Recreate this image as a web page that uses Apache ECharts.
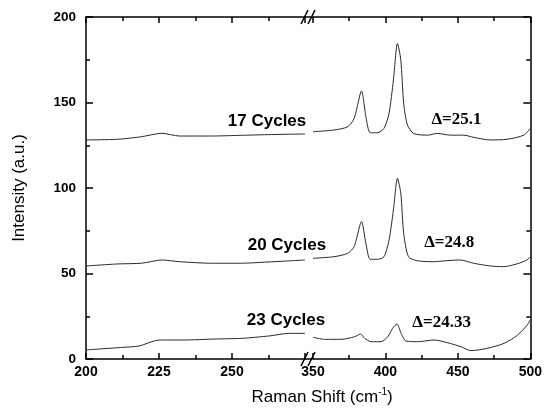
<!DOCTYPE html>
<html>
<head>
<meta charset="utf-8">
<script src="https://cdn.jsdelivr.net/npm/echarts@6/dist/echarts.min.js"></script>
<style>html,body{margin:0;padding:0;background:#fff;}#c{width:545px;height:413px;}</style>
</head>
<body>
<div id="c"></div>
<script>
// Raman shift ranges (broken axis) and tick labels
const leftRange = [200, 275];
const rightRange = [350, 500];
const yRange = [0, 200];

// 17 Cycles
const c17Left = [[200,128.1],[211,128.5],[219,130.0],[226,132.0],[232,130.4],[243,130.4],[253,130.8],[262,131.2],[275,131.6]];
const c17Right = [[350,132.9],[364.5,133.9],[373.9,135.8],[378.4,140.7],[383.5,156.7],[386.5,141.7],[389.5,132.3],[394.5,132.3],[399,134.9],[402.5,143.7],[405.5,163.2],[408.3,184.6],[410.6,174.9],[412.6,149.5],[415.2,136.8],[419.5,131.9],[429,130.9],[435.8,131.9],[445,130.9],[454,130.9],[461,129.6],[472.5,128.1],[484,128.5],[495.5,130.9],[500,134.9]];
// 20 Cycles
const c20Left = [[200,54.4],[211,55.6],[219,56.0],[226,57.9],[232,56.9],[243,56.0],[253,56.0],[262,56.7],[275,57.9]];
const c20Right = [[350,58.9],[364.5,59.8],[373.9,61.8],[378.4,65.7],[383.5,80.3],[386.5,67.7],[389.5,58.3],[394.5,58.3],[399,59.8],[402.5,69.6],[405.5,87.1],[408.3,105.7],[410.6,96.9],[412.6,73.5],[415.9,59.8],[421.7,57.5],[433.2,56.9],[442.4,57.5],[451.6,57.9],[460.8,56.0],[472.3,54.4],[481.5,54.0],[490.7,55.6],[497.6,57.9],[500,59.8]];
// 23 Cycles
const c23Left = [[200,5.3],[212.5,6.8],[218.2,7.6],[225,11.1],[233,11.1],[244.5,11.7],[253.6,12.1],[262.8,13.5],[269.6,15.0],[275,15.0]];
const c23Right = [[350,12.7],[358,11.5],[369.5,11.5],[378.7,13.0],[382.8,14.6],[385.6,12.1],[390.2,10.1],[397,10.1],[401.6,13.0],[405,18.0],[408,20.5],[410.8,15.0],[414.2,10.5],[422.2,10.1],[433.7,11.1],[442.9,9.5],[452.1,7.2],[459,4.9],[470.5,6.3],[482,9.2],[491.2,14.0],[498,20.0],[500,23.0]];

// annotations: [text, side(0 left,1 right), x, y, kind]
const annotations = [
  ['17 Cycles', 0, 262, 139, 'cyc'],
  ['20 Cycles', 0, 268.8, 66.7, 'cyc'],
  ['23 Cycles', 0, 268.5, 22.8, 'cyc'],
  ['\u0394=25.1', 1, 449, 139.8, 'delta'],
  ['\u0394=24.8', 1, 444, 67.8, 'delta'],
  ['\u0394=24.33', 1, 438.8, 21, 'delta']
];

const chart = echarts.init(document.getElementById('c'), null, {renderer: 'canvas'});
const ink = '#000';
const lineColor = '#2a2a2a';
const sansBold = {fontFamily: 'Liberation Sans', fontWeight: 'bold', color: ink};

function xAx(gridIndex, range, interval, pos, showLabel) {
  return {
    type: 'value', gridIndex, min: range[0], max: range[1], interval, position: pos,
    axisLine: {show: true, onZero: false, lineStyle: {color: ink, width: 1.5}},
    axisTick: {show: true, inside: true, length: 6, lineStyle: {color: ink, width: 1.5}},
    minorTick: {show: true, splitNumber: 2, length: 4, lineStyle: {color: ink, width: 1.5}},
    splitLine: {show: false},
    axisLabel: {show: showLabel, margin: 6, fontSize: 14, ...sansBold,
      formatter: v => (v === 275 ? '' : String(v))}
  };
}
function yAx(gridIndex, pos, showLabel) {
  return {
    type: 'value', gridIndex, min: yRange[0], max: yRange[1], interval: 50, position: pos,
    axisLine: {show: true, onZero: false, lineStyle: {color: ink, width: 1.5}},
    axisTick: {show: true, inside: true, length: 7, lineStyle: {color: ink, width: 1.5}},
    minorTick: {show: true, splitNumber: 2, length: 4, lineStyle: {color: ink, width: 1.5}},
    splitLine: {show: false},
    axisLabel: {show: showLabel, margin: 10, fontSize: 13.5, ...sansBold},
    name: showLabel ? 'Intensity (a.u.)' : '',
    nameLocation: 'middle', nameGap: 58, nameRotate: 90,
    nameTextStyle: {fontFamily: 'Liberation Sans', fontSize: 17, color: ink}
  };
}
function line(data, xi, yi) {
  return {type: 'line', data, xAxisIndex: xi, yAxisIndex: yi, symbol: 'none', smooth: 0.25,
    lineStyle: {color: lineColor, width: 1}, animation: false, silent: true};
}

chart.setOption({
  backgroundColor: '#fff',
  animation: false,
  grid: [
    {left: 86, top: 17, width: 219, height: 342},
    {left: 313, top: 17, width: 218, height: 342}
  ],
  xAxis: [
    xAx(0, leftRange, 25, 'bottom', true),
    xAx(0, leftRange, 25, 'top', false),
    xAx(1, rightRange, 50, 'bottom', true),
    xAx(1, rightRange, 50, 'top', false)
  ],
  yAxis: [yAx(0, 'left', true), yAx(1, 'right', false)],
  series: [
    line(c17Left, 0, 0), line(c17Right, 2, 1),
    line(c20Left, 0, 0), line(c20Right, 2, 1),
    line(c23Left, 0, 0), line(c23Right, 2, 1)
  ]
});

// decorations: break marks, axis title, annotations
const pL0 = chart.convertToPixel({xAxisIndex: 0, yAxisIndex: 0}, [leftRange[1], yRange[0]]);
const pR0 = chart.convertToPixel({xAxisIndex: 2, yAxisIndex: 1}, [rightRange[0], yRange[1]]);
const xb1 = pL0[0] - 0.5, xb2 = pR0[0] - 0.5;
const yBot = pL0[1], yTop = pR0[1];
const g = [];
[yBot, yTop].forEach(yy => {
  g.push({type: 'line', shape: {x1: xb1, y1: yy, x2: xb2, y2: yy}, style: {stroke: ink, lineWidth: 1.5}});
  [xb1, xb1 + 7].forEach(cx => {
    g.push({type: 'line', shape: {x1: cx - 3.5, y1: yy + 7, x2: cx + 3.5, y2: yy - 7}, style: {stroke: ink, lineWidth: 1.5}});
  });
});
const midX = (chart.convertToPixel({xAxisIndex: 0, yAxisIndex: 0}, [leftRange[0], 0])[0] +
  chart.convertToPixel({xAxisIndex: 2, yAxisIndex: 1}, [rightRange[1], 0])[0]) / 2;
g.push({type: 'text', x: midX + 14, y: 397, style: {
  text: '{a|Raman Shift (cm}{s|-1}{a|)}', align: 'center', verticalAlign: 'middle',
  rich: {
    a: {fontFamily: 'Liberation Sans', fontSize: 17, lineHeight: 20, fill: ink},
    s: {fontFamily: 'Liberation Sans', fontSize: 10, lineHeight: 10, verticalAlign: 'top', fill: ink}
  }}});
annotations.forEach(([t, side, x, y, kind]) => {
  const p = side === 0
    ? chart.convertToPixel({xAxisIndex: 0, yAxisIndex: 0}, [x, y])
    : chart.convertToPixel({xAxisIndex: 2, yAxisIndex: 1}, [x, y]);
  g.push({type: 'text', x: p[0], y: p[1], style: {
    text: t, align: 'center', verticalAlign: 'middle', fill: ink,
    font: kind === 'cyc' ? 'bold 17px "Liberation Sans"' : 'bold 17px "Liberation Serif"'
  }});
});
chart.setOption({graphic: g});
</script>
</body>
</html>
